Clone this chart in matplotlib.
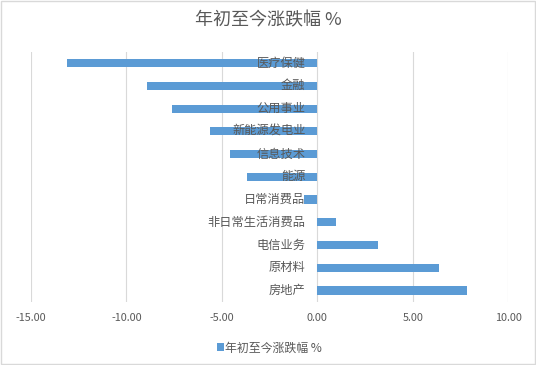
import matplotlib
matplotlib.use("Agg")
import matplotlib.pyplot as plt
from matplotlib.patches import Rectangle

plt.rcParams['font.family'] = ['Noto Sans CJK SC', 'DejaVu Sans']

# 数据（自上而下）
sectors = ['医疗保健', '金融', '公用事业', '新能源发电业', '信息技术', '能源',
           '日常消费品', '非日常生活消费品', '电信业务', '原材料', '房地产']
changes = [-13.1, -8.9, -7.6, -5.6, -4.6, -3.7, -0.7, 1.0, 3.16, 6.4, 7.85]
xticks = [-15, -10, -5, 0, 5, 10]

bar_color = '#5B9BD5'
text_color = '#595959'

fig = plt.figure(figsize=(5.36, 3.65), dpi=100)
ax = fig.add_axes([0.058, 0.173, 0.89, 0.685])

ypos = list(range(len(sectors)))
ax.barh(ypos, changes, height=0.36, color=bar_color, zorder=2,
        label='年初至今涨跌幅 %')
ax.set_ylim(len(sectors) - 0.5, -0.5)
ax.set_xlim(-15, 10)

# 类别标签贴在零线左侧（Excel 风格）
for y, name in zip(ypos, sectors):
    ax.annotate(name, xy=(0, y), xytext=(-8.5, 0), textcoords='offset points',
                ha='right', va='center', fontsize=8.8, color=text_color, zorder=3)

ax.set_yticks([])
ax.set_xticks(xticks)
ax.set_xticklabels([f'{v:.2f}' for v in xticks], fontsize=7.8, color=text_color)
ax.tick_params(axis='x', length=0, pad=8)
ax.grid(axis='x', color='#D9D9D9', linewidth=0.8, zorder=0)
for s in ax.spines.values():
    s.set_visible(False)

fig.suptitle('年初至今涨跌幅 %', y=0.97, fontsize=13, color=text_color)

ax.legend(loc='upper center', bbox_to_anchor=(0.5, -0.115), frameon=False,
          fontsize=8.6, labelcolor=text_color, handlelength=0.6,
          handleheight=0.6, handletextpad=0.1)

fig.patches.append(Rectangle((0.002, 0.003), 0.996, 0.994, transform=fig.transFigure,
                             fill=False, edgecolor='#D9D9D9', linewidth=1))

fig.savefig('out.png', dpi=100)
